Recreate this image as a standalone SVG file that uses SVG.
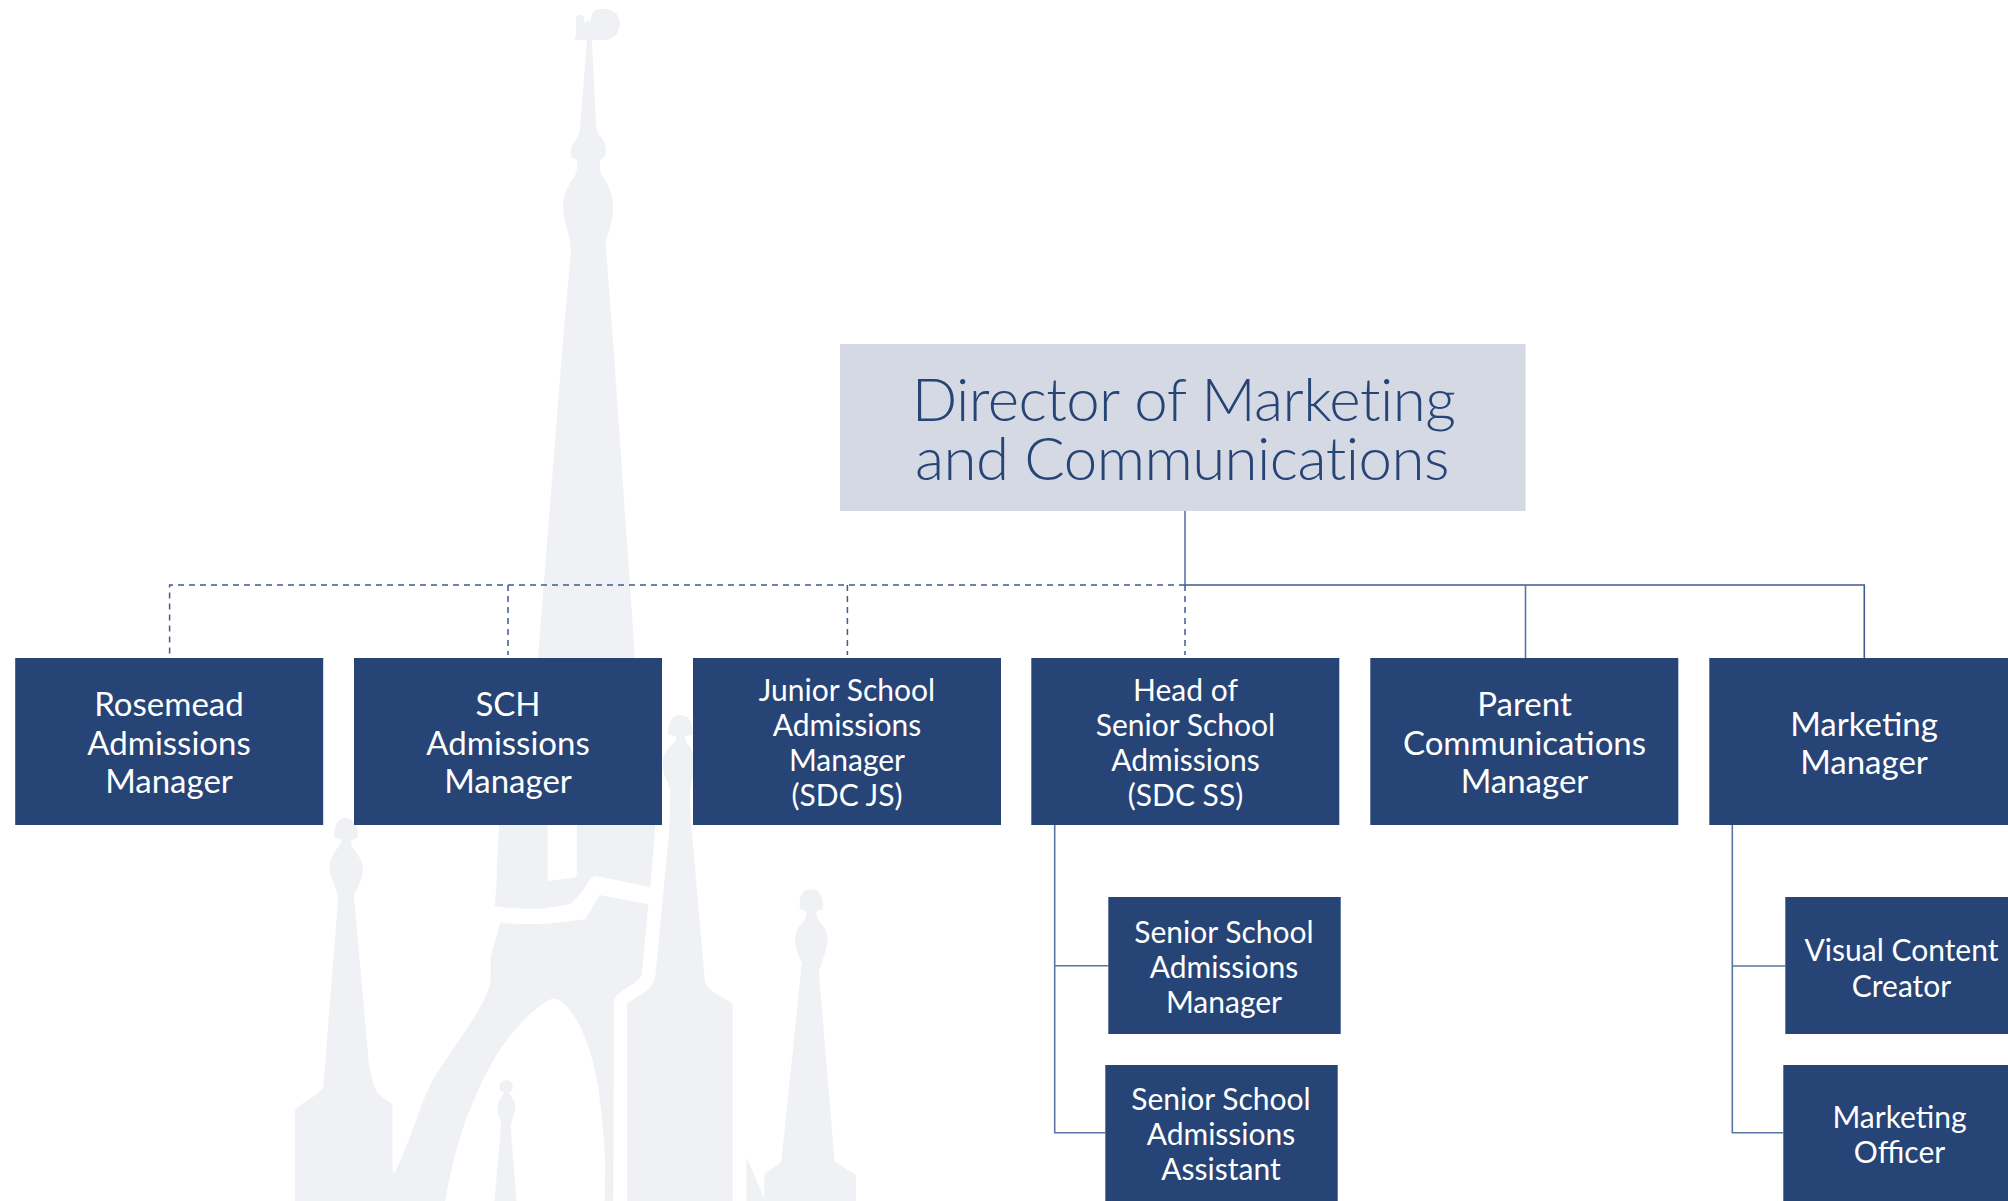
<svg xmlns="http://www.w3.org/2000/svg" width="2008" height="1201" viewBox="0 0 2008 1201">
<style>
.bg{fill:#f0f1f5}
.box{fill:#274477}
.t{font-family:Lato,"Open Sans","Liberation Sans",sans-serif;fill:#ffffff;text-anchor:middle;font-weight:400}
.l{font-size:33px}
.s{font-size:30px}
.d{font-family:Lato,"Open Sans","Liberation Sans",sans-serif;fill:#274477;text-anchor:middle;font-weight:300;font-size:60px;letter-spacing:-0.55px}
.c{fill:none;stroke:#5a74a6;stroke-width:1.6}
.dash{stroke:#3f5b90;stroke-width:1.5;stroke-dasharray:6 5}
</style>
<rect width="2008" height="1201" fill="#ffffff"/>
<g id="background">
<path class="bg" d="M574 40Q576 38 576 33L576 18Q577 15 580 15Q584 15 584 18L584 23L588 20L590 23Q591 15 594 11Q600 8 607 9Q618 11 620 23Q619 37 607 40L592 40L596 125Q597 131 599 135Q606 142 606 152Q605 158 600 160Q599 166 601 174Q613 190 613 207Q613 222 606 240L606 250L613 340L635 658L640 824L530 824L538 658L563 340L571 250Q570 240 568 232Q563 218 563 203Q565 188 574 178Q578 170 577 160L571 157Q570 147 574 143Q580 135 580 127L587 40Z"/>
<path class="bg" d="M669 850L670 800Q671 790 668 783Q660 770 664 755Q668 747 675 742Q677 738 676 736L668 735Q668 715 680 715Q693 715 693 735L685 736Q685 742 690 747Q698 760 692 780L690 790L691 850Z"/>
<g transform="translate(270 800) scale(0.3954 0.33333)">
<path class="bg" d="M585 0Q575 120 573 250L568 318Q600 326 680 326Q720 322 760 312Q785 285 810 238Q815 228 825 228L962 262L980 0L776 0L776 220Q775 232 770 233L702 243L702 0Z"/>
<path class="bg" d="M63 1210L63 932Q66 922 100 897Q130 875 135 860L172 300Q170 270 160 245Q150 220 150 200Q151 175 170 145Q180 130 181 120L163 112Q160 55 192 53Q224 60 222 112L205 122Q205 140 222 165Q235 185 235 205Q235 240 212 285L250 790Q258 850 270 875Q285 895 310 912L310 1115L315 1120Q350 1030 385 910Q405 850 430 805Q470 735 510 665Q545 600 558 550L558 470L582 370Q640 372 690 373L798 358L833 285L957 313L940 525Q935 540 905 562Q875 585 870 598L868 1210L846 1210L848 1100Q845 990 830 860Q810 730 775 660Q745 600 720 595Q700 598 660 640Q620 680 570 770Q530 850 495 960Q460 1080 442 1210Z"/>
<path class="bg" d="M903 1210L903 612Q915 600 945 578Q972 558 975 525L1017 0L1060 0L1100 545Q1105 565 1130 583Q1155 600 1170 612L1170 1210Z"/>
<path class="bg" d="M567 1210L585 968Q570 930 578 905Q585 890 592 880L582 870Q575 845 597 840Q618 845 613 870L604 880Q622 900 620 925Q618 945 608 975L624 1210Z"/>
<path class="bg" d="M1205 1210L1205 1072L1250 1195L1250 1122L1293 1087L1345 490Q1330 455 1328 420Q1328 390 1345 370Q1358 355 1357 335L1340 327Q1335 268 1368 268Q1400 268 1398 327L1381 335Q1382 355 1395 372Q1412 395 1410 425Q1405 460 1388 515L1428 1085L1482 1125L1482 1210Z"/>
</g>
</g>
<g id="connectors">
<path class="c dash" d="M1185 585H169.6V655"/>
<path class="c dash" d="M508 585V655"/>
<path class="c dash" d="M847.4 585V655"/>
<path class="c dash" d="M1185 585V655"/>
<path class="c" d="M1185 511V585"/>
<path class="c" style="stroke:#3f5b90" d="M1185 585H1864.3V658"/>
<path class="c" d="M1525.5 585V658"/>
<path class="c" d="M1054.7 825V1132.7H1105.3"/>
<path class="c" d="M1054.7 965.7H1108.3"/>
<path class="c" d="M1732.3 825V1132.8H1783.3"/>
<path class="c" d="M1732.3 966H1785.3"/>
</g>
<g id="director"><rect x="840" y="344" width="685.5" height="167" fill="#d5d9e4"/>
<text class="d" x="1183.5" y="421">Director of Marketing</text><text class="d" x="1182" y="479.5">and Communications</text></g>
<g id="rosemead"><rect class="box" x="15.2" y="658" width="308" height="167"/>
<text class="t l" x="169" y="716">Rosemead</text><text class="t l" x="169" y="755">Admissions</text><text class="t l" x="169" y="793">Manager</text></g>
<g id="sch"><rect class="box" x="354" y="658" width="308" height="167"/>
<text class="t l" x="508" y="716">SCH</text><text class="t l" x="508" y="755">Admissions</text><text class="t l" x="508" y="793">Manager</text></g>
<g id="junior"><rect class="box" x="693" y="658" width="308" height="167"/>
<text class="t s" x="847" y="701">Junior School</text><text class="t s" x="847" y="736">Admissions</text><text class="t s" x="847" y="771">Manager</text><text class="t s" x="847" y="806">(SDC JS)</text></g>
<g id="head"><rect class="box" x="1031.3" y="658" width="308" height="167"/>
<text class="t s" x="1185.5" y="701">Head of</text><text class="t s" x="1185.5" y="736">Senior School</text><text class="t s" x="1185.5" y="771">Admissions</text><text class="t s" x="1185.5" y="806">(SDC SS)</text></g>
<g id="parent"><rect class="box" x="1370.3" y="658" width="308" height="167"/>
<text class="t l" x="1524.5" y="716">Parent</text><text class="t l" x="1524.5" y="755">Communications</text><text class="t l" x="1524.5" y="793">Manager</text></g>
<g id="marketing-manager"><rect class="box" x="1709.3" y="658" width="308" height="167"/>
<text class="t l" x="1864" y="735.5">Marketing</text><text class="t l" x="1864" y="774">Manager</text></g>
<g id="ss-manager"><rect class="box" x="1108.3" y="897" width="232.4" height="137"/>
<text class="t s" x="1224" y="943">Senior School</text><text class="t s" x="1224" y="978">Admissions</text><text class="t s" x="1224" y="1013">Manager</text></g>
<g id="ss-assistant"><rect class="box" x="1105.3" y="1065" width="232.4" height="136"/>
<text class="t s" x="1221" y="1110">Senior School</text><text class="t s" x="1221" y="1145">Admissions</text><text class="t s" x="1221" y="1180">Assistant</text></g>
<g id="visual"><rect class="box" x="1785.3" y="897" width="232" height="137"/>
<text class="t s" x="1901.5" y="961">Visual Content</text><text class="t s" x="1901.5" y="997">Creator</text></g>
<g id="officer"><rect class="box" x="1783.3" y="1065" width="232" height="136"/>
<text class="t s" x="1899.5" y="1128">Marketing</text><text class="t s" x="1899.5" y="1163">Officer</text></g>
</svg>
